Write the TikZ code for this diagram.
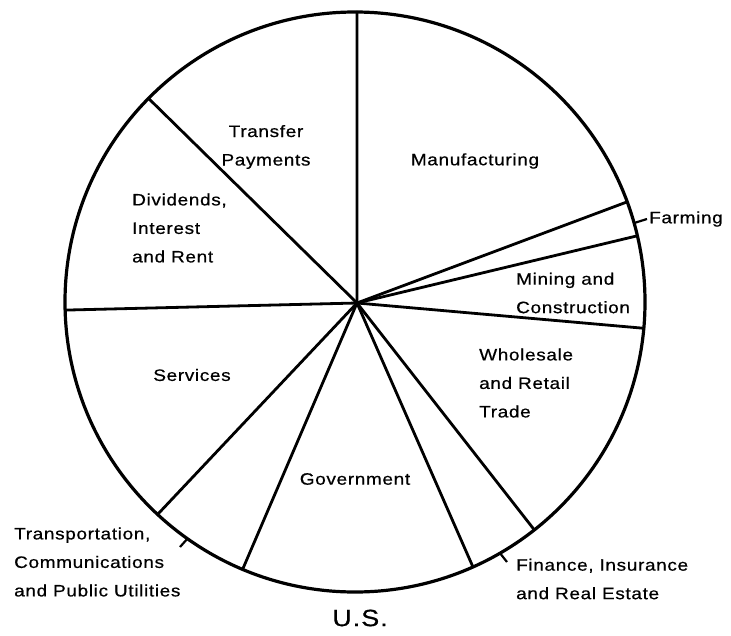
\documentclass[tikz,border=0pt]{standalone}
\usepackage{fontspec}
\setmainfont{Liberation Sans}[FakeStretch=1.15,LetterSpace=4,FakeBold=0.6]
\begin{document}
\begin{tikzpicture}[x=1pt,y=-1pt]
\tikzset{pielabel/.style={inner sep=0pt, align=left, font=\fontsize{16.5}{28.5}\selectfont}}
\tikzset{pieline/.style={line width=2.8pt, line cap=round}}
\tikzset{pietick/.style={line width=2.2pt}}
\useasboundingbox (0,0) rectangle (731,635);
% base generic picture
\coordinate (O)   at (355,302);
\coordinate (hub) at (357,303);
\draw[pieline, line width=3.2pt] (O) circle [radius=290];
% sector borders
\foreach \a [count=\i] in {270.4,224.6,178.4,132.9,112.8,66.0,51.8,5.2,346.8,339.8}
  \path (O) ++(\a:290) coordinate (s\i);
\foreach \i in {1,...,10}
  \draw[pieline] (hub) -- (s\i);
% leader ticks
\path (O) ++(344.2:290) coordinate (tf);
\path (O) ++(125.3:290) coordinate (tt);
\path (O) ++(60.0:290)  coordinate (tn);
\coordinate (tfe) at (647,219);
\coordinate (tte) at (180,547);
\coordinate (tne) at (507,562);
\draw[pietick] (tf) -- (tfe);
\draw[pietick] (tt) -- (tte);
\draw[pietick] (tn) -- (tne);
% sector labels
\node (transfer) [pielabel, align=center]  at (266,147) {Transfer\\Payments};
\node (manuf)    [pielabel]                at (475,161) {Manufacturing};
\node (divid)    [pielabel, anchor=west]   at (132,228) {Dividends,\\Interest\\and Rent};
\node (farming)  [pielabel, anchor=west]   at (649,219) {Farming};
\node (mining)   [pielabel, anchor=west]   at (516,293) {Mining and\\Construction};
\node (trade)    [pielabel, anchor=west]   at (479,383) {Wholesale\\and Retail\\Trade};
\node (services) [pielabel]                at (192,375) {Services};
\node (govt)     [pielabel]                at (355,479) {Government};
\node (transp)   [pielabel, anchor=west]   at (14,562)  {Transportation,\\Communications\\and Public Utilities};
\node (finance)  [pielabel, anchor=west]   at (516,579) {Finance, Insurance\\and Real Estate};
% caption
\node (us) [inner sep=0pt, font=\fontsize{23.5}{26}\selectfont] at (360,618) {U.S.};
\end{tikzpicture}
\end{document}
